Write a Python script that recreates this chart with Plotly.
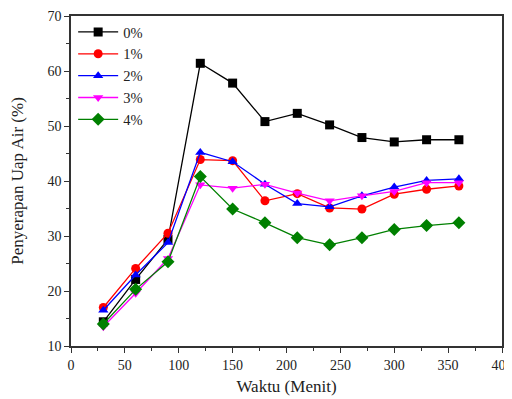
import plotly.graph_objects as go

x = [30, 60, 90, 120, 150, 180, 210, 240, 270, 300, 330, 360]
s0 = [14.4, 22.1, 29.4, 61.4, 57.8, 50.8, 52.3, 50.2, 47.9, 47.1, 47.5, 47.5]
s1 = [17.0, 24.1, 30.5, 43.9, 43.7, 36.4, 37.7, 35.1, 34.9, 37.6, 38.5, 39.1]
s2 = [16.5, 22.9, 28.8, 45.2, 43.5, 39.4, 35.9, 35.3, 37.3, 38.9, 40.1, 40.4]
s3 = [13.5, 19.6, 25.9, 39.3, 38.7, 39.4, 37.8, 36.4, 37.3, 38.1, 39.7, 39.7]
s4 = [14.0, 20.3, 25.3, 40.8, 34.9, 32.4, 29.7, 28.4, 29.7, 31.2, 31.9, 32.4]
names = ["0%", "1%", "2%", "3%", "4%"]
colors = ["#000000", "#ff0000", "#0000ff", "#ff00ff", "#008000"]
symbols = ["square", "circle", "triangle-up", "triangle-down", "diamond"]
series = [s0, s1, s2, s3, s4]

fig = go.Figure()
for name, ys, c, sym in zip(names, series, colors, symbols):
    fig.add_trace(go.Scatter(
        x=x, y=ys, name=name, mode="lines+markers",
        line=dict(color=c, width=1.3),
        marker=dict(symbol=sym, size=9 if sym != "diamond" else 10, color=c),
    ))

font = "Liberation Serif"
fig.update_layout(
    width=512, height=399,
    margin=dict(l=63, r=18, t=8, b=61, autoexpand=False),
    plot_bgcolor="white", paper_bgcolor="white",
    font=dict(family=font, size=14, color="#222"),
    showlegend=True,
    legend=dict(x=0.005, y=1.0, xanchor="left", yanchor="top",
                font=dict(family=font, size=14.5, color="#222"),
                bgcolor="rgba(0,0,0,0)", tracegroupgap=0, itemwidth=40),
    xaxis=dict(range=[0, 400], tickvals=[0, 50, 100, 150, 200, 250, 300, 350, 400],
               ticks="outside", ticklen=5, tickwidth=1.2, tickcolor="#333", automargin=False,
               tickfont=dict(family=font, size=14, color="#222"),
               minor=dict(tickvals=[25, 75, 125, 175, 225, 275, 325, 375], ticks="outside", ticklen=3, tickcolor="#333"),
               showline=True, linecolor="#333", linewidth=1.5, mirror=True,
               showgrid=False, zeroline=False,
               title=dict(text="Waktu (Menit)", font=dict(family=font, size=17, color="#222"), standoff=9)),
    yaxis=dict(range=[10, 70], tickvals=[10, 20, 30, 40, 50, 60, 70],
               ticks="outside", ticklen=5, tickwidth=1.2, tickcolor="#333", automargin=False,
               tickfont=dict(family=font, size=14, color="#222"),
               minor=dict(tickvals=[15, 25, 35, 45, 55, 65], ticks="outside", ticklen=3, tickcolor="#333"),
               showline=True, linecolor="#333", linewidth=1.5, mirror=True,
               showgrid=False, zeroline=False,
               title=dict(text="Penyerapan Uap Air (%)", font=dict(family=font, size=17, color="#222"), standoff=20)),
)
fig.write_html("out.html")
